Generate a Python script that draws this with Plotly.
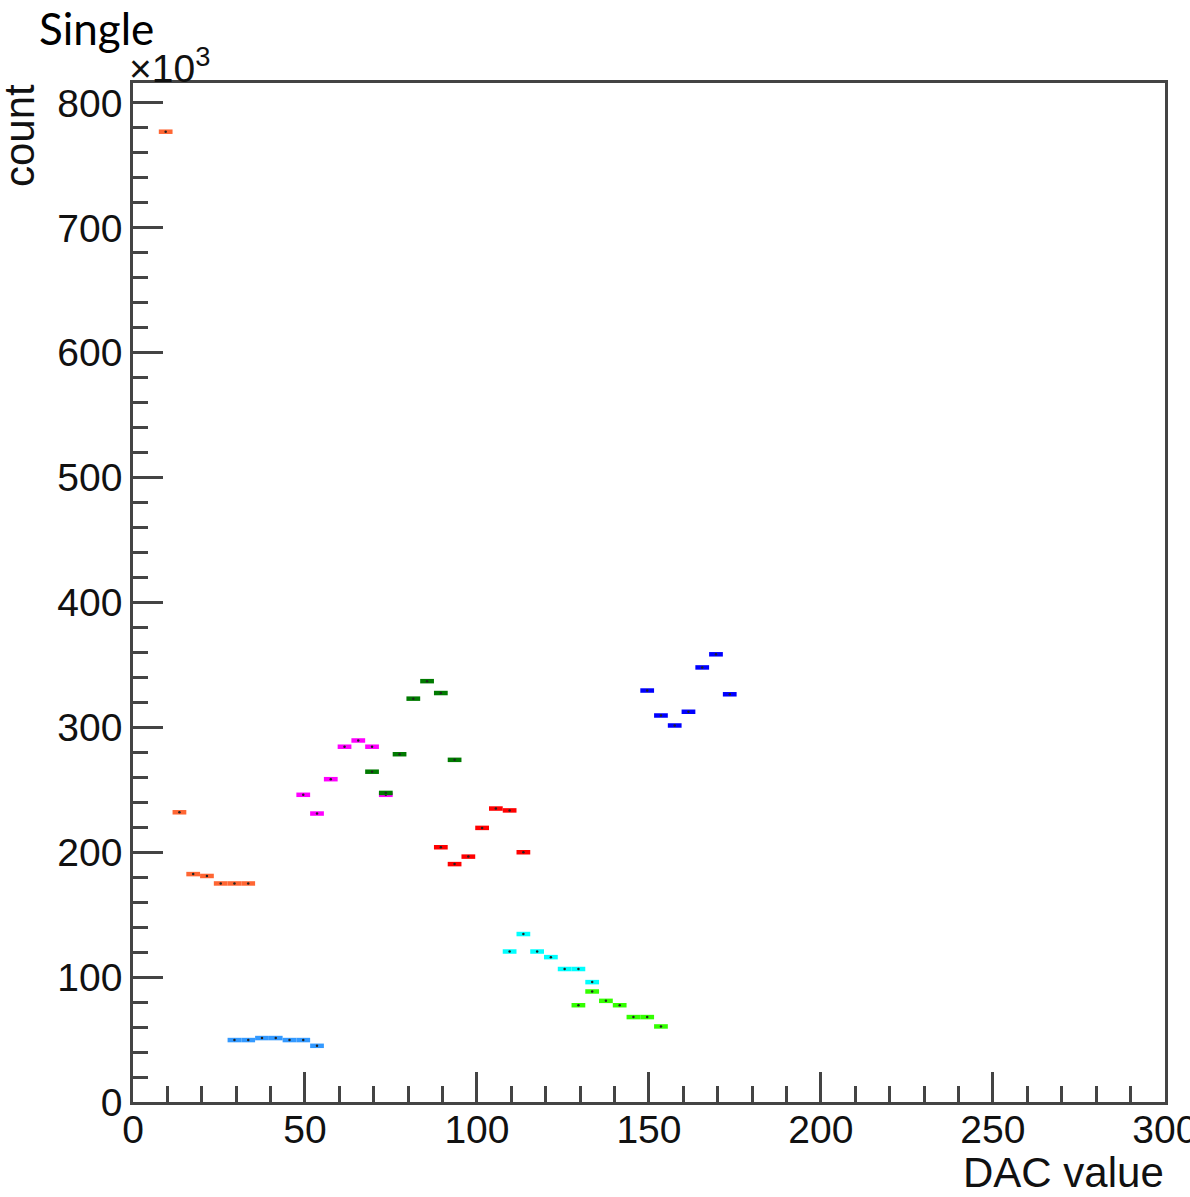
import plotly.graph_objects as go

# DAC scan: counts per 4-wide DAC bin for eight channels (counts in units of 10^3)
BIN_HALF_WIDTH = 2.0

orange_dac = [9.5, 13.5, 17.5, 21.5, 25.5, 29.5, 33.5]
orange_cnt = [777, 232, 182.5, 181, 175, 175, 175]

azure_dac = [29.5, 33.5, 37.5, 41.5, 45.5, 49.5, 53.5]
azure_cnt = [49.6, 49.6, 51.2, 51.2, 49.6, 49.6, 45]

magenta_dac = [49.5, 53.5, 57.5, 61.5, 65.5, 69.5, 73.5]
magenta_cnt = [246, 231, 258.5, 284.5, 289.5, 284.5, 246]

dkgreen_dac = [69.5, 73.5, 77.5, 81.5, 85.5, 89.5, 93.5]
dkgreen_cnt = [264.5, 247.5, 278.5, 323, 337, 327.5, 274]

red_dac = [89.5, 93.5, 97.5, 101.5, 105.5, 109.5, 113.5]
red_cnt = [204, 190.5, 196.5, 219.5, 235, 233.5, 200]

cyan_dac = [109.5, 113.5, 117.5, 121.5, 125.5, 129.5, 133.5]
cyan_cnt = [120.5, 134.5, 120.5, 116, 106.5, 106.5, 96]

ltgreen_dac = [129.5, 133.5, 137.5, 141.5, 145.5, 149.5, 153.5]
ltgreen_cnt = [77.5, 88.5, 81, 77.5, 68, 68, 60.5]

blue_dac = [149.5, 153.5, 157.5, 161.5, 165.5, 169.5, 173.5]
blue_cnt = [329.5, 309.5, 301.5, 312.5, 348, 358.5, 326.5]

series = [
    (orange_dac, orange_cnt, "#FF6633"),
    (azure_dac, azure_cnt, "#3399FF"),
    (magenta_dac, magenta_cnt, "#FF00FF"),
    (dkgreen_dac, dkgreen_cnt, "#007A00"),
    (red_dac, red_cnt, "#FF0000"),
    (cyan_dac, cyan_cnt, "#00FFFF"),
    (ltgreen_dac, ltgreen_cnt, "#33FF00"),
    (blue_dac, blue_cnt, "#0000FF"),
]

W, H = 1190, 1197
L, R, T, B = 133, 25, 83, 95
PW, PH = W - L - R, H - T - B


def px_x(px):
    return (px - L) / PW


def px_y(py):
    return (H - B - py) / PH


AX_FONT = dict(family="Liberation Sans, Arial, sans-serif", size=39, color="#111111")
TITLE_FONT = dict(family="Liberation Sans, Arial, sans-serif", size=42, color="#111111")

fig = go.Figure()
for xs, ys, col in series:
    fig.add_trace(go.Scatter(
        x=xs, y=ys, mode="markers",
        marker=dict(size=2.5, color="#222222", line=dict(width=0)),
        error_x=dict(type="constant", value=BIN_HALF_WIDTH, color=col,
                     thickness=4.5, width=0),
        showlegend=False, hoverinfo="x+y",
    ))

axis_common = dict(
    showgrid=False, zeroline=False, automargin=False,
    showline=True, linecolor="#444444", linewidth=2.5, mirror=True,
    ticks="inside", ticklen=30, tickwidth=2.5, tickcolor="#444444",
    tickfont=AX_FONT, ticklabeloverflow="allow",
)

fig.update_xaxes(
    range=[0, 300.05], tick0=0, dtick=50, ticklabelstandoff=-9,
    minor=dict(ticks="inside", ticklen=16, tickwidth=2.5, tickcolor="#444444", dtick=10),
    **axis_common,
)
fig.update_yaxes(
    range=[0, 816], tick0=0, dtick=100, ticklabelstandoff=0,
    minor=dict(ticks="inside", ticklen=15, tickwidth=2.5, tickcolor="#444444", dtick=20),
    **axis_common,
)

fig.update_layout(
    width=W, height=H,
    margin=dict(l=L, r=R, t=T, b=B, pad=0, autoexpand=False),
    paper_bgcolor="white", plot_bgcolor="white",
    annotations=[
        dict(text="Single", xref="paper", yref="paper", x=px_x(37), y=px_y(0),
             xanchor="left", yanchor="top", showarrow=False,
             font=dict(family="Lato, Open Sans, sans-serif", size=44, color="black")),
        dict(text="×10<sup>3</sup>", xref="paper", yref="paper", x=px_x(127), y=px_y(92),
             xanchor="left", yanchor="bottom", showarrow=False, font=AX_FONT),
        dict(text="count", xref="paper", yref="paper", x=px_x(-6), y=px_y(82),
             xanchor="left", yanchor="top", textangle=-90, showarrow=False, font=TITLE_FONT),
        dict(text="DAC value", xref="paper", yref="paper", x=px_x(1166), y=px_y(1198),
             xanchor="right", yanchor="bottom", showarrow=False, font=TITLE_FONT),
    ],
)

fig.write_html("out.html")
